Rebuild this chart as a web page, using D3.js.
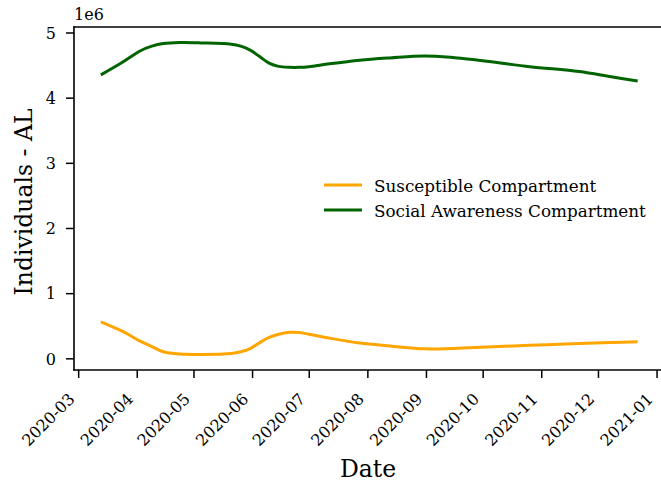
<!DOCTYPE html>
<html>
<head>
<meta charset="utf-8">
<script src="https://cdn.jsdelivr.net/npm/d3@7"></script>
<style>
  html, body { margin: 0; padding: 0; background: #fff; }
  svg { display: block; }
  text { font-family: "DejaVu Serif", serif; fill: #000; }
</style>
</head>
<body>
<svg id="chart" width="661" height="482"></svg>
<script>
// ---- data (values in millions, displayed with 1e6 offset) ----
const dates = ["2020-03-13","2020-03-24","2020-04-03","2020-04-09","2020-04-15","2020-04-24",
  "2020-05-05","2020-05-21","2020-05-26","2020-05-31","2020-06-05","2020-06-10","2020-06-15",
  "2020-06-21","2020-06-26","2020-07-01","2020-07-12","2020-07-28","2020-08-13","2020-08-31",
  "2020-09-14","2020-09-30","2020-10-26","2020-11-21","2020-12-08","2020-12-22"];
const susceptible = [0.56,0.42,0.26,0.18,0.10,0.065,0.06,0.075,0.10,0.15,0.24,0.32,0.37,
  0.40,0.395,0.37,0.31,0.235,0.19,0.145,0.15,0.17,0.20,0.228,0.243,0.255];
const socialAwareness = [4.35,4.535,4.72,4.79,4.83,4.845,4.84,4.82,4.79,4.73,4.63,4.53,4.48,
  4.465,4.465,4.475,4.52,4.575,4.61,4.64,4.62,4.57,4.475,4.40,4.32,4.255];
const seriesNames = ["Susceptible Compartment","Social Awareness Compartment"];
const seriesColors = ["#FFA500","#006400"];
const yTicks = [0,1,2,3,4,5];
const xTickDates = ["2020-03-01","2020-04-01","2020-05-01","2020-06-01","2020-07-01","2020-08-01",
  "2020-09-01","2020-10-01","2020-11-01","2020-12-01","2021-01-01"];

const parse = d3.utcParse("%Y-%m-%d");
const fmt = d3.utcFormat("%Y-%m");
const dd = dates.map(parse);

const svg = d3.select("#chart");
const L = 74, T = 27, B = 370, R = 664.5;

// matplotlib-like 5% margins
const x0 = d3.min(dd), x1 = d3.max(dd);
const xs = x1 - x0;
const x = d3.scaleUtc().domain([new Date(+x0 - 0.05*xs), new Date(+x1 + 0.05*xs)]).range([L, R]);
const all = susceptible.concat(socialAwareness);
const y0 = d3.min(all), y1 = d3.max(all), ys = y1 - y0;
const y = d3.scaleLinear().domain([y0 - 0.05*ys, y1 + 0.05*ys]).range([B, T]);

// lines
const series = [susceptible, socialAwareness];
const line = d3.line().x((d,i)=>x(dd[i])).y(d=>y(d)).curve(d3.curveCatmullRom.alpha(0.5));
series.forEach((s,k)=>{
  svg.append("path").datum(s).attr("d", line)
    .attr("fill","none").attr("stroke", seriesColors[k]).attr("stroke-width", 3)
    .attr("stroke-linecap","butt").attr("stroke-linejoin","round");
});

// axes
const xAxis = d3.axisBottom(x).tickValues(xTickDates.map(parse)).tickFormat(fmt).tickSize(8).tickSizeOuter(0);
const gx = svg.append("g").attr("transform",`translate(0,${B})`).call(xAxis);
gx.select(".domain").remove();
gx.selectAll(".tick line").attr("stroke","#000").attr("stroke-width",1.5);
gx.selectAll(".tick text").attr("font-size",16).attr("font-family","DejaVu Serif")
  .attr("text-anchor","end").attr("dy",null).attr("y",0)
  .attr("transform","translate(-3,30) rotate(-45)");

const yAxis = d3.axisLeft(y).tickValues(yTicks).tickFormat(d3.format("d")).tickSize(8).tickSizeOuter(0);
const gy = svg.append("g").attr("transform",`translate(${L},0)`).call(yAxis);
gy.select(".domain").remove();
gy.selectAll(".tick line").attr("stroke","#000").attr("stroke-width",1.5);
gy.selectAll(".tick text").attr("font-size",16).attr("font-family","DejaVu Serif").attr("x",-18).attr("dy","0.36em");

// spines
[[L,T,L,B],[L,B,R,B],[L,T,R,T],[R,T,R,B]].forEach(s=>{
  svg.append("line").attr("x1",s[0]).attr("y1",s[1]).attr("x2",s[2]).attr("y2",s[3])
    .attr("stroke","#000").attr("stroke-width",1.6).attr("stroke-linecap","square");
});

// offset text
svg.append("text").attr("x",L).attr("y",20).attr("font-size",16).text("1e6");

// axis titles
svg.append("text").attr("x",368).attr("y",477).attr("text-anchor","middle").attr("font-size",23.5).text("Date");
svg.append("text").attr("transform","translate(32,202) rotate(-90)").attr("text-anchor","middle").attr("font-size",23.5).text("Individuals - AL");

// legend
const lg = svg.append("g");
seriesNames.forEach((n,k)=>{
  const yy = 185 + k*25;
  lg.append("line").attr("x1",324).attr("x2",362).attr("y1",yy).attr("y2",yy)
    .attr("stroke",seriesColors[k]).attr("stroke-width",3);
  lg.append("text").attr("x",374).attr("y",yy+6.5).attr("font-size",16.8).text(n);
});
</script>
</body>
</html>
